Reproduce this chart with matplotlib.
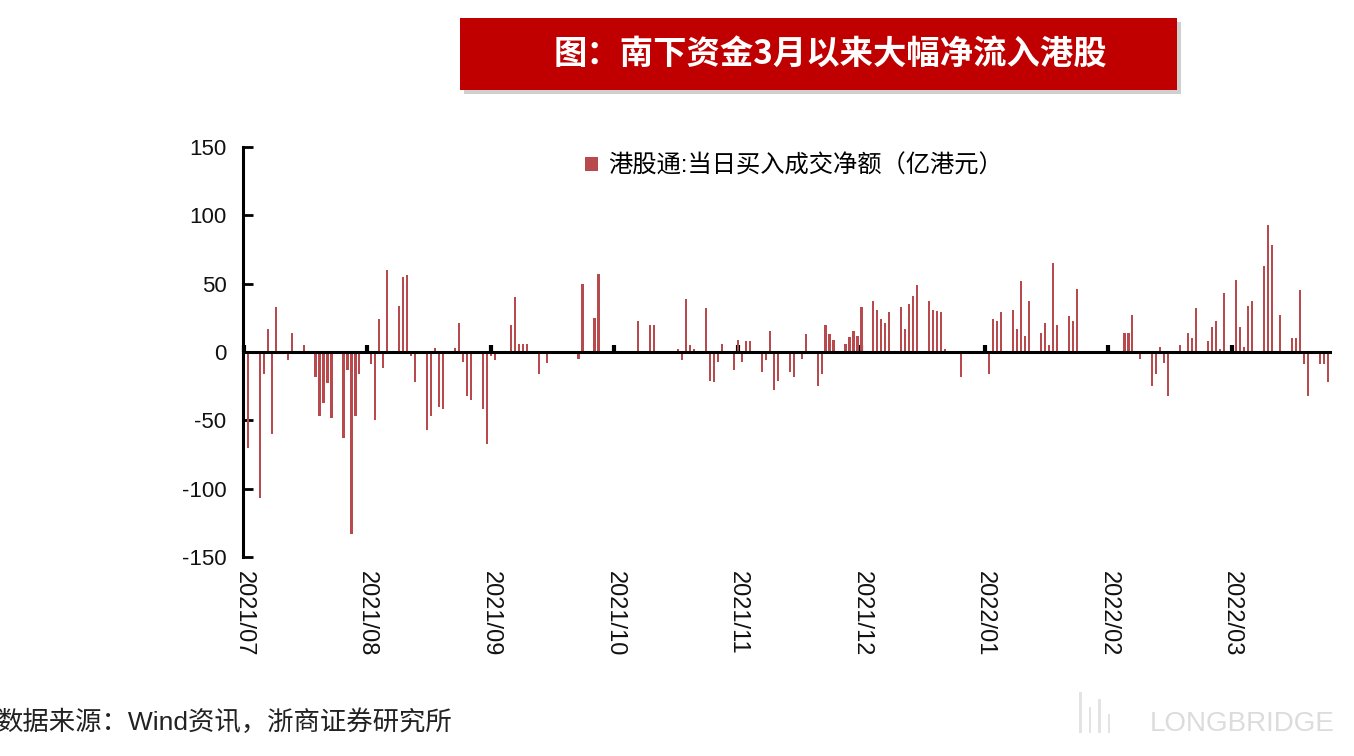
import numpy as np
import pandas as pd
import matplotlib
matplotlib.use("Agg")
import matplotlib.pyplot as plt
import matplotlib.dates as mdates
from matplotlib.patches import Rectangle

plt.rcParams["font.family"] = ["Liberation Sans", "Noto Sans CJK SC", "DejaVu Sans"]
plt.rcParams["axes.unicode_minus"] = False

# daily southbound net buy (HKD 100m)
dates = [
    "2021-07-02", "2021-07-05", "2021-07-06", "2021-07-07", "2021-07-08", "2021-07-09",
    "2021-07-12", "2021-07-13", "2021-07-16", "2021-07-19", "2021-07-20", "2021-07-21",
    "2021-07-22", "2021-07-23", "2021-07-26", "2021-07-27", "2021-07-28", "2021-07-29",
    "2021-07-30", "2021-08-02", "2021-08-03", "2021-08-04", "2021-08-05", "2021-08-06",
    "2021-08-09", "2021-08-10", "2021-08-11", "2021-08-12", "2021-08-13", "2021-08-16",
    "2021-08-17", "2021-08-18", "2021-08-19", "2021-08-20", "2021-08-23", "2021-08-24",
    "2021-08-25", "2021-08-26", "2021-08-27", "2021-08-30", "2021-08-31", "2021-09-01",
    "2021-09-02", "2021-09-06", "2021-09-07", "2021-09-08", "2021-09-09", "2021-09-10",
    "2021-09-13", "2021-09-15", "2021-09-23", "2021-09-24", "2021-09-27", "2021-09-28",
    "2021-10-08", "2021-10-11", "2021-10-12", "2021-10-18", "2021-10-19", "2021-10-20",
    "2021-10-21", "2021-10-22", "2021-10-25", "2021-10-26", "2021-10-27", "2021-10-28",
    "2021-10-29", "2021-11-01", "2021-11-02", "2021-11-03", "2021-11-04", "2021-11-05",
    "2021-11-08", "2021-11-09", "2021-11-10", "2021-11-11", "2021-11-12", "2021-11-15",
    "2021-11-16", "2021-11-18", "2021-11-19", "2021-11-22", "2021-11-23", "2021-11-24",
    "2021-11-25", "2021-11-26", "2021-11-29", "2021-11-30", "2021-12-01", "2021-12-02",
    "2021-12-03", "2021-12-06", "2021-12-07", "2021-12-08", "2021-12-09", "2021-12-10",
    "2021-12-13", "2021-12-14", "2021-12-15", "2021-12-16", "2021-12-17", "2021-12-20",
    "2021-12-21", "2021-12-22", "2021-12-23", "2021-12-24", "2021-12-28", "2022-01-04",
    "2022-01-05", "2022-01-06", "2022-01-07", "2022-01-10", "2022-01-11", "2022-01-12",
    "2022-01-13", "2022-01-14", "2022-01-17", "2022-01-18", "2022-01-19", "2022-01-20",
    "2022-01-21", "2022-01-24", "2022-01-25", "2022-01-26", "2022-02-07", "2022-02-08",
    "2022-02-09", "2022-02-11", "2022-02-14", "2022-02-15", "2022-02-16", "2022-02-17",
    "2022-02-18", "2022-02-21", "2022-02-23", "2022-02-24", "2022-02-25", "2022-02-28",
    "2022-03-01", "2022-03-02", "2022-03-03", "2022-03-04", "2022-03-07", "2022-03-08",
    "2022-03-09", "2022-03-10", "2022-03-11", "2022-03-14", "2022-03-15", "2022-03-16",
    "2022-03-18", "2022-03-21", "2022-03-22", "2022-03-23", "2022-03-24", "2022-03-25",
    "2022-03-28", "2022-03-29", "2022-03-30",
]
net_buy = [
    -70, -107, -16, 17, -60, 33,
    -6, 14, 5, -18, -47, -37,
    -23, -48, -63, -13, -133, -47,
    -16, -9, -50, 24, -12, 60,
    34, 55, 56, -3, -22, -57,
    -47, 3, -40, -42, 3, 21,
    -7, -32, -35, -42, -67, -3,
    -6, 20, 40, 6, 6, 6,
    -16, -8, -5, 50, 25, 57,
    23, 20, 20, 2, -6, 39,
    5, 2, 32, -21, -22, -7,
    6, -13, 9, -7, 8, 8,
    -15, -6, 15, -28, -21, -15,
    -18, -5, 13, -25, -16, 20,
    13, 9, 6, 11, 15, 12,
    33, 37, 31, 24, 21, 29,
    33, 17, 35, 41, 49, 37,
    31, 30, 29, 2, -18, -16,
    24, 23, 29, 31, 17, 52,
    12, 37, 14, 21, 5, 65,
    20, 26, 23, 46, 14, 14,
    27, -5, -25, -16, 4, -8,
    -32, 5, 14, 10, 32, 8,
    18, 23, 2, 43, 53, 18,
    4, 34, 37, 63, 93, 78,
    27, 10, 10, 45, -9, -32,
    -9, -9, -22,
]

# axis labels every 31 days from 2021-07-01
tick_labels = ["2021/07", "2021/08", "2021/09", "2021/10", "2021/11",
               "2021/12", "2022/01", "2022/02", "2022/03"]
y_ticks = [-150, -100, -50, 0, 50, 100, 150]

title = "图：南下资金3月以来大幅净流入港股"
legend_label = "港股通:当日买入成交净额（亿港元）"
source = "数据来源：Wind资讯，浙商证券研究所"

x = mdates.date2num(pd.to_datetime(dates))
start = mdates.date2num(pd.Timestamp("2021-07-01"))
tick_pos = start + 31 * np.arange(len(tick_labels))

fig = plt.figure(figsize=(13.54, 7.56), dpi=100)
ax = fig.add_axes([0.1795, 0.2632, 0.8025, 0.5424])

ax.bar(x, net_buy, width=0.55, color="#B84A4E", label=legend_label, zorder=2)

ax.set_xlim(start - 0.2, start + 272.5)
ax.set_ylim(-150, 150)
ax.set_yticks(y_ticks)
ax.tick_params(axis="y", direction="in", length=7, width=2, labelsize=16, pad=12,
               labelcolor="#111111")

for s in ["top", "right"]:
    ax.spines[s].set_visible(False)
ax.spines["left"].set_linewidth(2.2)
ax.spines["bottom"].set_position(("data", 0))
ax.spines["bottom"].set_linewidth(2.2)
ax.spines["bottom"].set_zorder(3)

ax.set_xticks(tick_pos)
ax.tick_params(axis="x", direction="in", length=5, width=3, labelbottom=False)

sec = ax.secondary_xaxis("bottom")
sec.set_xticks(tick_pos, tick_labels)
sec.spines["bottom"].set_visible(False)
sec.tick_params(axis="x", length=0, pad=10, labelsize=17, labelrotation=-90,
                labelcolor="#111111")

leg = ax.legend(loc="upper center", bbox_to_anchor=(0.507, 1.035), frameon=False,
                fontsize=17.5, handlelength=0.55, handleheight=0.55, handletextpad=0.4)

# title banner
fig.patches.append(Rectangle((0.3427, 0.876), 0.5296, 0.095, transform=fig.transFigure,
                             facecolor="#cfcfcf", edgecolor="none", zorder=0))
fig.patches.append(Rectangle((0.3397, 0.881), 0.5296, 0.095, transform=fig.transFigure,
                             facecolor="#C00000", edgecolor="none", zorder=1))
fig.text(0.613, 0.928, title, color="white", fontsize=24, fontweight="bold",
         ha="center", va="center", family=["Noto Sans CJK SC"])

fig.text(-0.002, 0.045, source, fontsize=19, color="#222222", ha="left", va="center")

# watermark
for i, h in enumerate([0.055, 0.035, 0.045, 0.025]):
    fig.patches.append(Rectangle((0.797 + i * 0.007, 0.03), 0.002, h, transform=fig.transFigure,
                                 facecolor="#e3e3e3", edgecolor="none"))
fig.text(0.986, 0.042, "LONGBRIDGE", fontsize=20, color="#dcdcdc", ha="right", va="center")

fig.savefig("out.png", dpi=100)
